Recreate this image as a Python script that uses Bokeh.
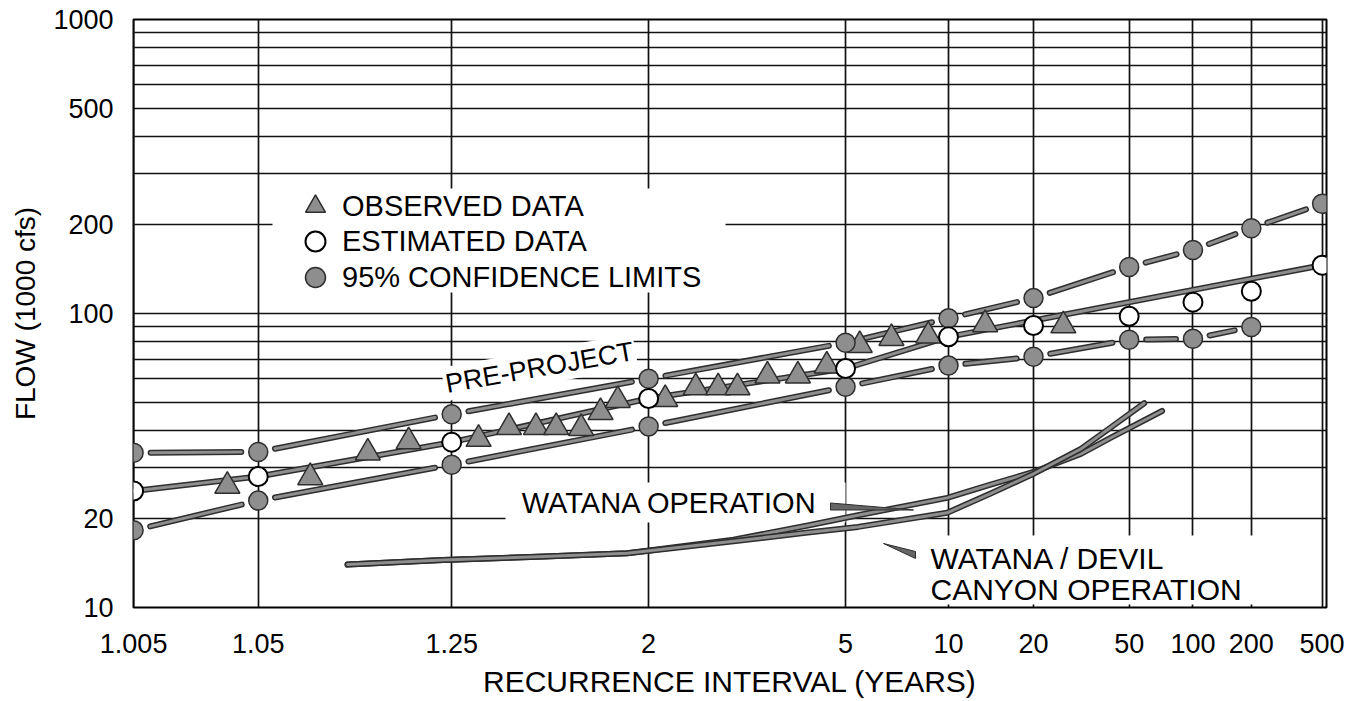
import math
from statistics import NormalDist
from bokeh.plotting import figure
from bokeh.models import (Range1d, FixedTicker, CustomJSTickFormatter, PrintfTickFormatter,
                          Label, BoxAnnotation, Legend, LegendItem)
from bokeh.embed import file_html
from bokeh.resources import INLINE

# ---------------- data ----------------
T_TICKS = [1.005, 1.05, 1.25, 2, 5, 10, 20, 50, 100, 200, 500]
T_LABELS = ["1.005", "1.05", "1.25", "2", "5", "10", "20", "50", "100", "200", "500"]
Y_TICKS = [10, 20, 100, 200, 500, 1000]
Y_GRID = [20, 30, 40, 50, 60, 70, 80, 90, 100, 200, 300, 400, 500, 600, 700, 800, 900, 1000]

CL_T = [1.005, 1.05, 1.25, 2, 5, 10, 20, 50, 100, 200, 500]
UPPER_Q = [33.6, 33.8, 45.4, 60.0, 79.5, 96.3, 112.8, 144, 164.5, 195, 236]
EST_Q = [24.9, 27.9, 36.5, 51.4, 65.0, 83.3, 91.0, 97.9, 109.3, 119, 146]
LOWER_T = [1.005, 1.05, 1.25, 2, 5, 10, 20, 50, 100, 200]
LOWER_Q = [18.3, 23.1, 30.6, 41.3, 56.3, 66.5, 71.3, 81.4, 82.0, 90.0]

PRE_T = [1.005, 1.05, 1.25, 2, 5, 10, 500]
PRE_Q = [24.9, 27.9, 36.5, 51.4, 65.0, 83.3, 146]

OBS_T = [1.03, 1.08, 1.13, 1.18, 1.305, 1.38, 1.46, 1.53, 1.63, 1.72, 1.81, 2.12,
         2.38, 2.61, 2.84, 3.27, 3.82, 4.48, 5.45, 6.68, 8.62, 13.3, 26.2]
OBS_Q = [25.9, 27.7, 33.6, 36.7, 37.4, 41.0, 41.0, 41.0, 40.7, 46.1, 50.7, 51.1,
         56.0, 56.0, 56.0, 61.4, 61.4, 66.4, 78.0, 82.4, 84.0, 91.8, 91.0]

WATANA_T = [1.11, 1.234, 1.488, 1.864, 2.79, 4.03, 5.39, 9.9, 13.9, 20, 30.9, 41.5, 70.9]
WATANA_Q = [14.0, 14.5, 14.9, 15.3, 17.0, 19.0, 20.6, 23.6, 26.2, 28.9, 33.3, 37.8, 46.6]
WDC_T = [1.11, 1.234, 1.488, 1.864, 2.79, 4.03, 5.39, 9.9, 13.9, 20, 30.9, 41.5, 58.5]
WDC_Q = [14.0, 14.5, 14.9, 15.3, 16.8, 18.0, 18.8, 21.0, 24.4, 28.5, 34.6, 41.0, 49.5]

# ---------------- probability-paper x scale ----------------
ND = NormalDist()
X_LEFT = -2.201          # left edge of the paper, labelled 1.005
X0, X1 = X_LEFT - 0.0005, 2.897


def zt(T):
    return ND.inv_cdf(1.0 - 1.0 / T)


def xpos(T):
    z = zt(T)
    z0, z1 = zt(1.005), zt(1.05)
    if z < z1:
        return X_LEFT + (z - z0) / (z1 - z0) * (z1 - X_LEFT)
    return z


# layout (pixels of the plot frame inside the figure)
W, H = 1356, 700
FL, FR, FT, FB = 133, 1326, 19, 607
FW, FH = FR - FL, FB - FT


def px_x(px):
    return X0 + (px - FL) / FW * (X1 - X0)


def py_y(py):
    return 10 ** (1 + 2.0 * (FB - py) / FH)


SX = FW / (X1 - X0)
SY = FH / 2.0

FONT = "Liberation Sans"
DARK = "#2e2e2e"
GREY = "#8e8e8e"

p = figure(width=W, height=H, output_backend="svg", toolbar_location=None,
           y_axis_type="log", x_range=Range1d(X0, X1), y_range=Range1d(10, 1000),
           min_border_left=FL, min_border_right=W - FR, min_border_top=FT,
           min_border_bottom=H - FB)
p.background_fill_color = "white"
p.border_fill_color = "white"
p.outline_line_color = "black"
p.outline_line_width = 2

XT = [xpos(t) for t in T_TICKS]
p.xaxis.ticker = FixedTicker(ticks=XT)
p.xgrid.ticker = FixedTicker(ticks=XT)
p.xaxis.formatter = CustomJSTickFormatter(args=dict(pos=XT, lab=T_LABELS), code="""
let best = 0, d = 1e9;
for (let i = 0; i < pos.length; i++) { const e = Math.abs(pos[i] - tick); if (e < d) { d = e; best = i; } }
return lab[best];
""")
p.yaxis.ticker = FixedTicker(ticks=Y_TICKS)
p.ygrid.ticker = FixedTicker(ticks=Y_GRID)
p.yaxis.formatter = PrintfTickFormatter(format="%d")

for ax in (p.xaxis[0], p.yaxis[0]):
    ax.axis_line_color = None
    ax.major_tick_line_color = None
    ax.minor_tick_line_color = None
    ax.major_label_text_font = FONT
    ax.major_label_text_font_size = "27px"
    ax.major_label_text_color = "black"
    ax.axis_label_text_font = FONT
    ax.axis_label_text_font_style = "normal"
    ax.axis_label_text_color = "black"

p.xaxis.axis_label = "RECURRENCE INTERVAL (YEARS)"
p.xaxis.axis_label_text_font_size = "30px"
p.xaxis.major_label_standoff = 20
p.xaxis.axis_label_standoff = 9
p.yaxis.axis_label = "FLOW (1000 cfs)"
p.yaxis.axis_label_text_font_size = "28px"
p.yaxis.major_label_standoff = 14
p.yaxis.axis_label_standoff = 9

for g in (p.xgrid[0], p.ygrid[0]):
    g.grid_line_color = "#111111"
    g.grid_line_width = 1.7

# white knock-out boxes behind the texts
for (l, r, t, b) in [(272, 725, 188, 292), (505, 845, 482, 522), (925, 1259, 535, 604)]:
    p.add_layout(BoxAnnotation(left=px_x(l), right=px_x(r), top=py_y(t), bottom=py_y(b),
                               fill_color="white", fill_alpha=1.0, line_alpha=0,
                               level="underlay"))


def double_line(xs, ys, w_out=6, w_in=3):
    p.line(xs, ys, line_color=DARK, line_width=w_out, line_cap="round", line_join="round")
    p.line(xs, ys, line_color=GREY, line_width=w_in, line_cap="round", line_join="round")


def gapped(ts, qs, gap):
    a, b, c, d = [], [], [], []
    for i in range(len(ts) - 1):
        xa, xb = xpos(ts[i]), xpos(ts[i + 1])
        la, lb = math.log10(qs[i]), math.log10(qs[i + 1])
        L = math.hypot((xb - xa) * SX, (lb - la) * SY)
        f = gap / L
        a.append(xa + (xb - xa) * f); b.append(10 ** (la + (lb - la) * f))
        c.append(xb - (xb - xa) * f); d.append(10 ** (lb - (lb - la) * f))
    return a, b, c, d


# operation curves
double_line([xpos(t) for t in WATANA_T], WATANA_Q, 6, 3)
double_line([xpos(t) for t in WDC_T], WDC_Q, 6, 3)

# confidence limit dashes
for ts, qs in [(CL_T, UPPER_Q), (LOWER_T, LOWER_Q)]:
    x0, y0, x1, y1 = gapped(ts, qs, 17)
    p.segment(x0=x0, y0=y0, x1=x1, y1=y1, line_color=DARK, line_width=6, line_cap="round")
    p.segment(x0=x0, y0=y0, x1=x1, y1=y1, line_color=GREY, line_width=3, line_cap="round")

# pre-project frequency curve
double_line([xpos(t) for t in PRE_T], PRE_Q, 6, 3)

tri = p.scatter([xpos(t) for t in OBS_T], OBS_Q, marker="triangle", size=25,
                fill_color=GREY, line_color=DARK, line_width=1.5)
up = p.scatter([xpos(t) for t in CL_T], UPPER_Q, marker="circle", size=19,
               fill_color=GREY, line_color=DARK, line_width=1.5)
p.scatter([xpos(t) for t in LOWER_T], LOWER_Q, marker="circle", size=19,
          fill_color=GREY, line_color=DARK, line_width=1.5)
est = p.scatter([xpos(t) for t in CL_T], EST_Q, marker="circle", size=19,
                fill_color="white", line_color="black", line_width=2)

# pointer wedges
for pts in [[(830, 502.5), (830, 509.5), (913, 509.5)],
            [(883, 543.0), (915, 551.0), (915, 558.0)]]:
    p.patch([px_x(a) for a, _ in pts], [py_y(b) for _, b in pts],
            fill_color="#666666", line_color=DARK, line_width=1)

# legend rows
for label, rend, cy in [("OBSERVED DATA", tri, 206), ("ESTIMATED DATA", est, 241),
                        ("95% CONFIDENCE LIMITS", up, 277)]:
    lg = Legend(items=[LegendItem(label=label, renderers=[rend])],
                location=(290 - FL, FB - (cy + 25)), glyph_width=50, glyph_height=50,
                label_standoff=2, padding=0, margin=0, spacing=0,
                background_fill_alpha=0, border_line_alpha=0,
                label_text_font=FONT, label_text_font_size="29px", label_text_color="black")
    p.add_layout(lg)

lab_kw = dict(text_font=FONT, text_color="black")
p.add_layout(Label(x=px_x(539), y=py_y(367), text="PRE-PROJECT", angle=10, angle_units="deg",
                   text_align="center", text_baseline="middle", text_font_size="27px",
                   background_fill_color="white", padding=2, **lab_kw))
p.add_layout(Label(x=px_x(669), y=py_y(502), text="WATANA OPERATION", text_align="center",
                   text_baseline="middle", text_font_size="29px", **lab_kw))
p.add_layout(Label(x=px_x(930), y=py_y(558), text="WATANA / DEVIL", text_align="left",
                   text_baseline="middle", text_font_size="30px", **lab_kw))
p.add_layout(Label(x=px_x(930), y=py_y(589), text="CANYON OPERATION", text_align="left",
                   text_baseline="middle", text_font_size="30px", **lab_kw))

open("out.html", "w").write(file_html(p, INLINE))
